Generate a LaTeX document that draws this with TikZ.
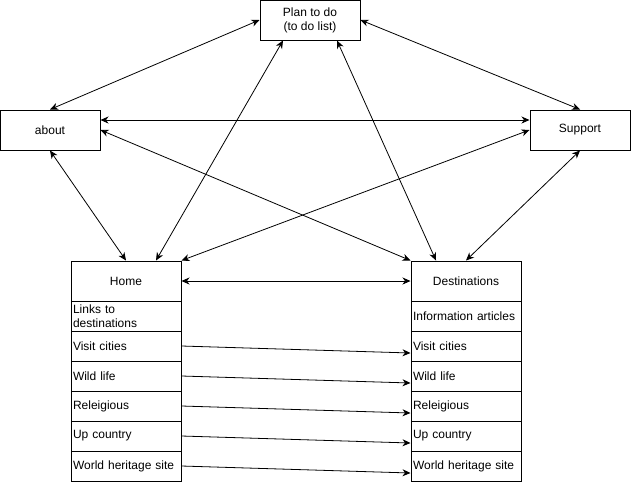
\documentclass[tikz,border=0pt]{standalone}
\usepackage{fontspec}
\setmainfont{Liberation Sans}
\usetikzlibrary{positioning,matrix,arrows.meta}
\tikzset{
    box nodes/.style={
        draw,
        align=center,
        minimum width=100pt,
        minimum height=40pt,
        inner sep=0pt,
        line width=1pt
    },
    cell nodes/.style={
        draw,
        align=left,
        text width=106pt,
        inner xsep=2pt,
        inner ysep=0pt,
        minimum height=30pt,
        execute at begin node={\hyphenpenalty=10000}
    },
    page table/.style={
        line width=1pt,
        matrix of nodes,
        row sep=-\pgflinewidth,
        column sep=-\pgflinewidth,
        inner sep=0pt,
        anchor=north west,
        nodes={
            cell nodes
          }
     },
    head/.style={align=center, minimum height=40pt},
    both ends/.style={{Stealth[length=8pt,width=7pt,inset=2.5pt]}-{Stealth[length=8pt,width=7pt,inset=2.5pt]}, line width=0.8pt},
    one end/.style={-{Stealth[length=8pt,width=7pt,inset=2.5pt]}, line width=0.8pt}
}
\begin{document}
\begin{tikzpicture}[x=1pt, y=-1pt, font=\fontsize{12}{14}\selectfont]
          \useasboundingbox (0,0) rectangle (631,482);
          \node[box nodes] (plan) at (310,20) {Plan to do\\(to do list)};
          \node[box nodes] (about) at (50,130) {about};
          \node[box nodes] (support) at (580,130) {Support};
          \matrix[page table] (home) at (70,260)
          { |[head]| Home\\
            Links to destinations\\
            Visit cities\\
            Wild life\\
            Releigious\\
            Up country\\
            World heritage site\\
          };
          \matrix[page table] (dest) at (410,260)
          { |[head]| Destinations\\
            Information articles\\
            Visit cities\\
            Wild life\\
            Releigious\\
            Up country\\
            World heritage site\\
          };
          \draw[both ends] (about.north) -- (plan.west);
          \draw[both ends] (plan.east) -- (support.north);
          \draw[both ends] ([yshift=10pt]about.east) -- ([yshift=10pt]support.west);
          \draw[both ends] (about.east) -- (dest-1-1.north west);
          \draw[both ends] (support.west) -- (home-1-1.north east);
          \draw[both ends] (about.south) -- (home-1-1.north);
          \draw[both ends] ([xshift=-27pt]plan.south) -- ([xshift=30pt]home-1-1.north);
          \draw[both ends] ([xshift=27pt]plan.south) -- ([xshift=-30pt]dest-1-1.north);
          \draw[both ends] (support.south) -- (dest-1-1.north);
          \draw[both ends] (home-1-1.east) -- (dest-1-1.west);
          \foreach \r in {3,...,7}
            \draw[one end] (home-\r-1.east) -- ([yshift=-7pt]dest-\r-1.west);
\end{tikzpicture}
\end{document}
